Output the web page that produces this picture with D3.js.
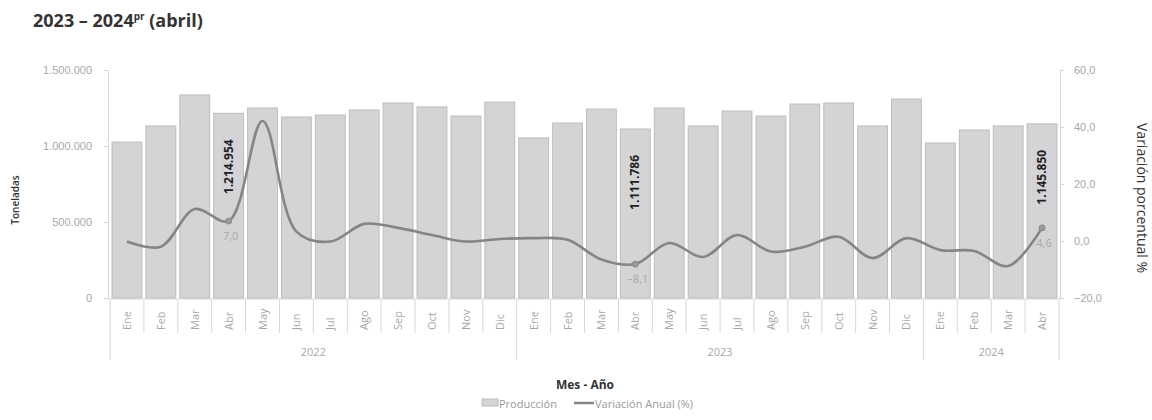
<!DOCTYPE html>
<html><head><meta charset="utf-8">
<script src="https://cdn.jsdelivr.net/npm/d3@7"></script>
<style>
body{margin:0;background:#fff;}
svg{display:block;font-family:"Open Sans","Noto Sans",sans-serif;}
</style></head>
<body><svg id="c" width="1152" height="420"></svg>
<script>
const monthNames = ["Ene","Feb","Mar","Abr","May","Jun","Jul","Ago","Sep","Oct","Nov","Dic"];
const yearGroups = [["2022",12],["2023",12],["2024",4]];
const produccion = [1026000,1132000,1336000,1214954,1250000,1191000,1204000,1237000,1283000,1257000,1197000,1289000,
                    1053000,1151000,1243000,1111786,1250000,1132000,1230000,1197000,1276000,1283000,1132000,1309000,
                    1020000,1105000,1132000,1145850];
const variacion = [-0.2,-2.0,11.2,7.0,42.1,3.3,-0.2,6.0,4.6,2.1,-0.2,0.7,
                   1.0,0.4,-6.5,-8.1,-0.7,-5.6,2.1,-3.7,-2.0,1.5,-6.0,1.0,
                   -3.2,-3.5,-8.8,4.6];
const labeledIdx = [3,15,27];
const leftTicks = [0,500000,1000000,1500000];
const rightTicks = [-20,0,20,40,60];

const cats = [];
yearGroups.forEach(([y,n])=>{for(let m=0;m<n;m++)cats.push({key:y+"-"+m,year:y,month:monthNames[m]});});
const data = cats.map((c,i)=>({...c,prod:produccion[i],vari:variacion[i]}));

const svg = d3.select("#c");
const L=110,R=1059,T=70,B=298;
const x = d3.scaleBand().domain(data.map(d=>d.key)).range([L,R]).paddingInner(0.12).paddingOuter(0.06);
const yL = d3.scaleLinear().domain([0,1500000]).range([B,T]);
const yR = d3.scaleLinear().domain([-20,60]).range([B,T]);
const fmtInt = n=>d3.format(",")(n).replace(/,/g,".");
const fmt1 = n=>d3.format(".1f")(n).replace(".",",");

// title
const t = svg.append("text").attr("x",33).attr("y",27).attr("font-size",18).attr("font-weight",700).attr("fill","#333");
t.append("tspan").text("2023 – 2024");
t.append("tspan").attr("font-size",10).attr("dy",-7).text("pr");
t.append("tspan").attr("dy",7).text(" (abril)");

// bars
svg.append("g").selectAll("rect").data(data).join("rect")
  .attr("x",d=>x(d.key)).attr("width",x.bandwidth())
  .attr("y",d=>yL(d.prod)).attr("height",d=>B-yL(d.prod))
  .attr("fill","#d4d4d6").attr("stroke","#bdbdbf").attr("stroke-width",1);

// left axis
const gl = svg.append("g").attr("transform",`translate(108,0)`)
  .call(d3.axisLeft(yL).tickValues(leftTicks).tickFormat(fmtInt).tickSize(4).tickPadding(12));
gl.select(".domain").attr("stroke","#d6d6d6");
gl.selectAll(".tick line").attr("stroke","#d6d6d6");
gl.selectAll("text").attr("fill","#a8a8a8").attr("font-size",11);

// right axis
const gr = svg.append("g").attr("transform",`translate(1060,0)`)
  .call(d3.axisRight(yR).tickValues(rightTicks).tickFormat(fmt1).tickSize(4).tickPadding(10));
gr.select(".domain").attr("stroke","#d6d6d6");
gr.selectAll(".tick line").attr("stroke","#d6d6d6");
gr.selectAll("text").attr("fill","#a8a8a8").attr("font-size",11);

// baseline
svg.append("line").attr("x1",108).attr("x2",1060).attr("y1",B+1).attr("y2",B+1).attr("stroke","#d0d0d0");

// line
const line = d3.line().x(d=>x(d.key)+x.bandwidth()/2).y(d=>yR(d.vari)).curve(d3.curveCatmullRom.alpha(0.5));
svg.append("path").datum(data).attr("d",line).attr("fill","none").attr("stroke","#858585").attr("stroke-width",2.6);

// markers + labels
const lab = data.filter((d,i)=>labeledIdx.includes(i));
svg.append("g").selectAll("circle").data(lab).join("circle")
  .attr("cx",d=>x(d.key)+x.bandwidth()/2).attr("cy",d=>yR(d.vari)).attr("r",3)
  .attr("fill","#9a9a9a").attr("stroke","#8a8a8a");
svg.append("g").selectAll("text").data(lab).join("text")
  .attr("x",d=>x(d.key)+x.bandwidth()/2+2).attr("y",d=>yR(d.vari)+19)
  .attr("text-anchor","middle").attr("font-size",11).attr("fill","#a8a8a8")
  .text(d=>fmt1(d.vari));
svg.append("g").selectAll("text").data(lab).join("text")
  .attr("transform",d=>`translate(${x(d.key)+x.bandwidth()/2+4},${yL(d.prod)+26}) rotate(-90)`)
  .attr("text-anchor","end").attr("font-size",12).attr("font-weight",700).attr("fill","#222")
  .text(d=>fmtInt(d.prod));

// month separators and labels
const step = x.step();
const x0 = x(data[0].key) - x.paddingOuter()*step + x.paddingInner()*step/2;
const boundaries = d3.range(data.length+1).map(i=>L + (R-L-step*data.length)/2 + i*step);
let acc=0; const yearStarts=[0];
yearGroups.forEach(([y,n])=>{acc+=n;yearStarts.push(acc);});
svg.append("g").selectAll("line").data(boundaries).join("line")
  .attr("x1",d=>d).attr("x2",d=>d).attr("y1",B+2)
  .attr("y2",(d,i)=>yearStarts.includes(i)?360:333)
  .attr("stroke","#d8d8d8").attr("stroke-width",1);
svg.append("g").selectAll("text").data(data).join("text")
  .attr("transform",d=>`translate(${x(d.key)+x.bandwidth()/2+4},330) rotate(-90)`)
  .attr("font-size",11).attr("fill","#a8a8a8").text(d=>d.month);
svg.append("g").selectAll("text").data(yearGroups).join("text")
  .attr("x",(d,i)=>(boundaries[yearStarts[i]]+boundaries[yearStarts[i+1]])/2)
  .attr("y",356).attr("text-anchor","middle").attr("font-size",11).attr("fill","#a8a8a8")
  .text(d=>d[0]);

// axis titles
svg.append("text").attr("transform","translate(19,200) rotate(-90)").attr("text-anchor","middle")
  .attr("font-size",10).attr("font-weight",600).attr("fill","#333").text("Toneladas");
svg.append("text").attr("transform","translate(1137,198) rotate(90)").attr("text-anchor","middle")
  .attr("font-size",14).attr("fill","#333").text("Variación porcentual %");
svg.append("text").attr("x",585).attr("y",389).attr("text-anchor","middle")
  .attr("font-size",12).attr("font-weight",700).attr("fill","#333").text("Mes - Año");

// legend
const lg = svg.append("g").attr("transform","translate(482,404)");
lg.append("rect").attr("x",0).attr("y",-5).attr("width",16).attr("height",7).attr("fill","#d4d4d6").attr("stroke","#bdbdbf");
lg.append("text").attr("x",17).attr("y",0).attr("dy","0.32em").attr("font-size",11).attr("fill","#999").text("Producción");
lg.append("line").attr("x1",92).attr("x2",112).attr("y1",-1).attr("y2",-1).attr("stroke","#858585").attr("stroke-width",2.5);
lg.append("text").attr("x",113).attr("y",0).attr("dy","0.32em").attr("font-size",11).attr("fill","#999").text("Variación Anual (%)");
</script></body></html>
